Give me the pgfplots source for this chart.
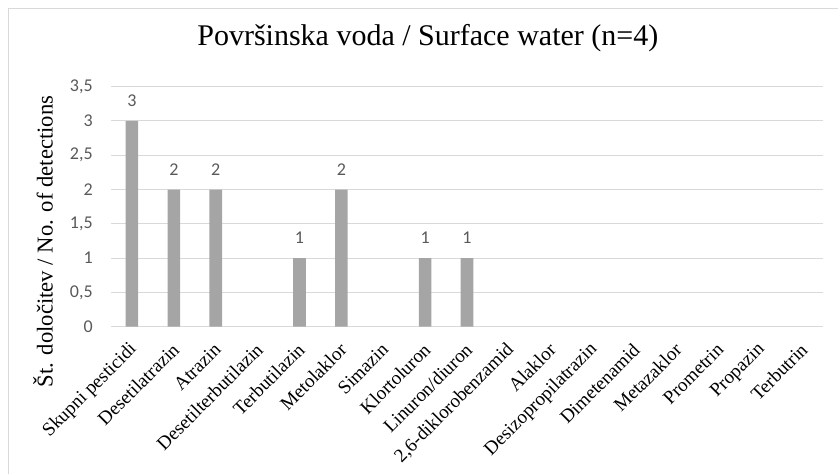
\documentclass[border=0pt]{standalone}
\usepackage{pgfplots}
\pgfplotsset{compat=1.18}
\usepackage{fontspec}
\setmainfont{Liberation Serif}
\newfontfamily\calibri{Carlito}
\definecolor{bargray}{HTML}{A5A5A5}
\definecolor{gridgray}{HTML}{D9D9D9}
\definecolor{ticktext}{HTML}{595959}
\begin{document}
\begin{tikzpicture}
\useasboundingbox (0,0) rectangle (628.5pt,355.5pt);
\draw[gridgray, line width=0.75pt] (6pt,-10pt) rectangle (640pt,348.75pt);
\begin{axis}[
  at={(83.25pt,110.5pt)}, anchor=south west,
  scale only axis, width=534pt, height=180pt,
  xmin=-0.5, xmax=16.5, ymin=0, ymax=3.5,
  axis line style={draw=none},
  ymajorgrids, grid style={gridgray, line width=0.75pt},
  ytick={0,0.5,...,3.5},
  major tick length=0pt,
  /pgf/number format/use comma,
  /pgf/number format/assume math mode=true,
  yticklabel style={font=\calibri\fontsize{13.5}{16}\selectfont, text=ticktext, anchor=east, inner sep=0pt, xshift=-13.5pt},
  xtick={0,...,16},
  xticklabels={Skupni pesticidi,Desetilatrazin,Atrazin,Desetilterbutilazin,Terbutilazin,Metolaklor,Simazin,Klortoluron,Linuron/diuron,{2,6-diklorobenzamid},Alaklor,Desizopropilatrazin,Dimetenamid,Metazaklor,Prometrin,Propazin,Terbutrin},
  xticklabel style={font=\fontsize{14.3}{16}\selectfont, yshift=-15pt, xshift=1.5pt, rotate=45, anchor=east, inner sep=0pt},
  ylabel={Št. določitev / No. of detections},
  ylabel style={font=\fontsize{17}{20}\selectfont, at={(axis description cs:-0.0955,0.355)}, anchor=center, rotate=0},
  title={Površinska voda / Surface water (n=4)},
  title style={font=\fontsize{22.5}{27}\selectfont, at={(axis description cs:0.445,1.17)}, anchor=center},
  nodes near coords,
  every node near coord/.append style={font=\calibri\fontsize{13.5}{16}\selectfont, text=ticktext, anchor=south, inner sep=0pt, yshift=10.5pt},
  point meta=y,
]
\addplot[ybar, bar width=9.45pt, fill=bargray, draw=none] coordinates {
 (0,3) (1,2) (2,2) (4,1) (5,2) (7,1) (8,1)
};
\end{axis}
\end{tikzpicture}
\end{document}
